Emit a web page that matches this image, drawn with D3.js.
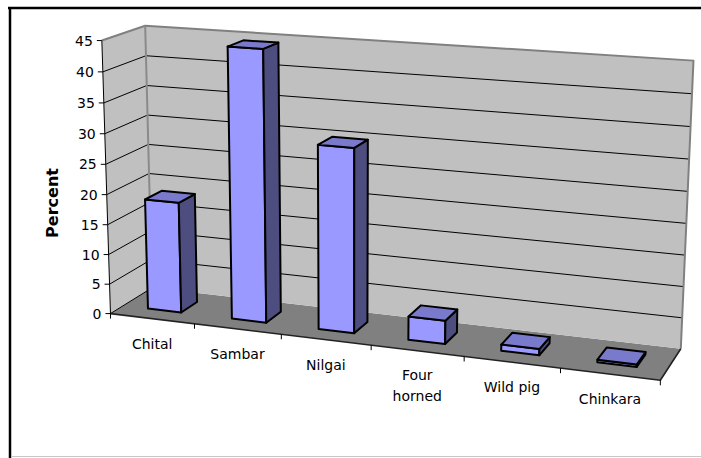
<!DOCTYPE html>
<html>
<head>
<meta charset="utf-8">
<script src="https://cdn.jsdelivr.net/npm/d3@7"></script>
<style>
  html, body { margin: 0; padding: 0; background: #fff; }
  svg { display: block; }
  text { font-family: "DejaVu Sans", Verdana, sans-serif; fill: #000; }
</style>
</head>
<body>
<svg id="chart" width="701" height="458"></svg>
<script>
// ---- data ----
const categories = ["Chital", "Sambar", "Nilgai", "Four horned", "Wild pig", "Chinkara"];
const percentValues = [18.5, 44.5, 30, 3.8, 1, 0.4];
const valueTicks = [0, 5, 10, 15, 20, 25, 30, 35, 40, 45];
const valueMax = 45;
const axisTitle = "Percent";

// ---- view: where the corners of the plot box sit on screen ----
// each entry: [category position, value, depth (0 front .. 1 back)] -> [screen x, screen y]
const viewAnchors = [
  [[0, 0, 0], [111, 314]],
  [[0, 45, 0], [102, 40]],
  [[0, 20, 0], [107, 195]],
  [[0, 0, 1], [152, 287]],
  [[0, 45, 1], [145, 25]],
  [[0, 40, 1], [146, 57]],
  [[6, 0, 1], [681, 349]],
  [[6, 45, 1], [693, 60]],
  [[6, 40, 1], [692, 94]],
  [[6, 35, 1], [691, 127]],
  [[6, 0, 0], [660, 380]],
  [[1, 0, 0], [193, 324]],
  [[3, 0, 0], [372, 345]]
];

const nCat = categories.length;
const xBand = d3.scaleBand().domain(categories).range([0, nCat]).paddingInner(0.6).paddingOuter(0.3);
const zBand = d3.scaleBand().domain(["series"]).range([0, 1]).paddingInner(0.6).paddingOuter(0.3);
const yScale = d3.scaleLinear().domain([0, valueMax]).range([0, 1]);

// ---- fit a perspective camera (3x4 projective matrix) by least squares ----
const U0 = 350, V0 = 200, S = 300;
function solveLinear(M, r) {
  const n = r.length;
  const A = M.map((row, i) => row.concat([r[i]]));
  for (let c = 0; c < n; c++) {
    let p = c;
    for (let i = c + 1; i < n; i++) if (Math.abs(A[i][c]) > Math.abs(A[p][c])) p = i;
    [A[c], A[p]] = [A[p], A[c]];
    for (let i = c + 1; i < n; i++) {
      const f = A[i][c] / A[c][c];
      for (let k = c; k <= n; k++) A[i][k] -= f * A[c][k];
    }
  }
  const x = new Array(n).fill(0);
  for (let i = n - 1; i >= 0; i--) {
    let s = A[i][n];
    for (let k = i + 1; k < n; k++) s -= A[i][k] * x[k];
    x[i] = s / A[i][i];
  }
  return x;
}
const rows = [], rhs = [];
viewAnchors.forEach(([[cx, v, z], [u, w]]) => {
  const X = cx / nCat, Y = yScale(v), Z = z;
  const un = (u - U0) / S, wn = (w - V0) / S;
  rows.push([X, Y, Z, 1, 0, 0, 0, 0, -un * X, -un * Y, -un * Z]); rhs.push(un);
  rows.push([0, 0, 0, 0, X, Y, Z, 1, -wn * X, -wn * Y, -wn * Z]); rhs.push(wn);
});
const N = 11;
const AtA = Array.from({ length: N }, () => new Array(N).fill(0));
const Atb = new Array(N).fill(0);
rows.forEach((row, i) => {
  for (let a = 0; a < N; a++) {
    Atb[a] += row[a] * rhs[i];
    for (let b = 0; b < N; b++) AtA[a][b] += row[a] * row[b];
  }
});
const P = solveLinear(AtA, Atb);

// project (category position, value, depth) to screen
function project(cx, v, z) {
  const X = cx / nCat, Y = yScale(v), Z = z;
  const w = P[8] * X + P[9] * Y + P[10] * Z + 1;
  const u = (P[0] * X + P[1] * Y + P[2] * Z + P[3]) / w;
  const t = (P[4] * X + P[5] * Y + P[6] * Z + P[7]) / w;
  return [u * S + U0, t * S + V0];
}
const poly = pts => pts.map(p => project(...p).join(",")).join(" ");
const area = pts => {
  const q = pts.map(p => project(...p));
  let s = 0;
  for (let i = 0; i < q.length; i++) {
    const a = q[i], b = q[(i + 1) % q.length];
    s += a[0] * b[1] - b[0] * a[1];
  }
  return s;
};

const svg = d3.select("#chart");
svg.append("rect").attr("width", 701).attr("height", 458).attr("fill", "#fff");

// ---- walls and floor ----
const g = svg.append("g");
g.append("polygon").attr("points", poly([[0, 0, 0], [nCat, 0, 0], [nCat, 0, 1], [0, 0, 1]]))
  .attr("fill", "#808080");
g.append("polygon").attr("points", poly([[0, 0, 0], [0, valueMax, 0], [0, valueMax, 1], [0, 0, 1]]))
  .attr("fill", "#c0c0c0");
g.append("polygon").attr("points", poly([[0, 0, 1], [0, valueMax, 1], [nCat, valueMax, 1], [nCat, 0, 1]]))
  .attr("fill", "#c0c0c0");

// gridlines across side wall and back wall
const line = d3.line();
valueTicks.filter(v => v > 0 && v < valueMax).forEach(v => {
  g.append("path")
    .attr("d", line([project(0, v, 0), project(0, v, 1), project(nCat, v, 1)]))
    .attr("fill", "none").attr("stroke", "#000").attr("stroke-width", 1);
});
// base line of the side wall
g.append("path").attr("d", line([project(0, 0, 0), project(0, 0, 1)]))
  .attr("fill", "none").attr("stroke", "#000").attr("stroke-width", 1);

// wall edges
g.append("path")
  .attr("d", line([project(0, valueMax, 0), project(0, valueMax, 1), project(nCat, valueMax, 1), project(nCat, 0, 1)]))
  .attr("fill", "none").attr("stroke", "#808080").attr("stroke-width", 2).attr("stroke-linejoin", "round");
g.append("path").attr("d", line([project(0, valueMax, 1), project(0, 0, 1)]))
  .attr("fill", "none").attr("stroke", "#8a8a8a").attr("stroke-width", 2);

// floor front and right edges
g.append("path").attr("d", line([project(0, 0, 0), project(nCat, 0, 0), project(nCat, 0, 1)]))
  .attr("fill", "none").attr("stroke", "#222").attr("stroke-width", 1.6).attr("stroke-linejoin", "round");

// ---- value axis ----
const axis = svg.append("g");
axis.append("path").attr("d", line([project(0, 0, 0), project(0, valueMax, 0)]))
  .attr("stroke", "#000").attr("stroke-width", 1).attr("fill", "none");
valueTicks.forEach(v => {
  const [px, py] = project(0, v, 0);
  axis.append("line").attr("x1", px - 5).attr("x2", px).attr("y1", py).attr("y2", py)
    .attr("stroke", "#000").attr("stroke-width", 1);
  axis.append("text").attr("x", px - 9).attr("y", py).attr("dy", "0.36em")
    .attr("text-anchor", "end").style("font-size", "14px").text(v);
});
axis.append("text")
  .attr("transform", `translate(52,203) rotate(-90)`)
  .attr("text-anchor", "middle").attr("dy", "0.35em")
  .style("font-size", "16px").style("font-weight", "bold")
  .text(axisTitle);

// ---- category axis ----
for (let k = 0; k <= nCat; k++) {
  const [px, py] = project(k, 0, 0);
  axis.append("line").attr("x1", px).attr("x2", px).attr("y1", py).attr("y2", py + 5)
    .attr("stroke", "#000").attr("stroke-width", 1);
}
categories.forEach((c, i) => {
  const [px, py] = project(i + 0.5, 0, 0);
  const t = axis.append("text").attr("x", px).attr("y", py + 30)
    .attr("text-anchor", "middle").style("font-size", "14px").text(c);
  if (t.node().getComputedTextLength() > 72) {
    const words = c.split(" ");
    t.text(null);
    words.forEach((w, j) => {
      t.append("tspan").attr("x", px).attr("dy", j === 0 ? -1 : 21).text(w);
    });
  }
});

// ---- bars ----
const bars = svg.append("g");
const z0 = zBand("series"), z1 = z0 + zBand.bandwidth();
categories.forEach((c, i) => {
  const v = percentValues[i];
  const x0 = xBand(c), x1 = x0 + xBand.bandwidth();
  const faces = [
    { pts: [[x0, 0, z0], [x1, 0, z0], [x1, v, z0], [x0, v, z0]], fill: "#9999ff" },
    { pts: [[x1, 0, z0], [x1, 0, z1], [x1, v, z1], [x1, v, z0]], fill: "#4d4d80" },
    { pts: [[x0, 0, z1], [x0, 0, z0], [x0, v, z0], [x0, v, z1]], fill: "#4d4d80" },
    { pts: [[x0, v, z0], [x1, v, z0], [x1, v, z1], [x0, v, z1]], fill: "#7a7acc" }
  ];
  const ref = Math.sign(area(faces[0].pts));
  const bg = bars.append("g");
  faces.forEach(f => {
    if (Math.sign(area(f.pts)) !== ref) return;
    bg.append("polygon").attr("points", poly(f.pts))
      .attr("fill", f.fill).attr("stroke", "#000").attr("stroke-width", 2)
      .attr("stroke-linejoin", "round");
  });
});

// ---- chart frame ----
svg.append("line").attr("x1", 8).attr("x2", 701).attr("y1", 8).attr("y2", 8)
  .attr("stroke", "#000").attr("stroke-width", 2.5);
svg.append("line").attr("x1", 10).attr("x2", 10).attr("y1", 7).attr("y2", 458)
  .attr("stroke", "#000").attr("stroke-width", 2.5);
svg.append("line").attr("x1", 11).attr("x2", 701).attr("y1", 456.5).attr("y2", 456.5)
  .attr("stroke", "#c8c8c8").attr("stroke-width", 1);
</script>
</body>
</html>
